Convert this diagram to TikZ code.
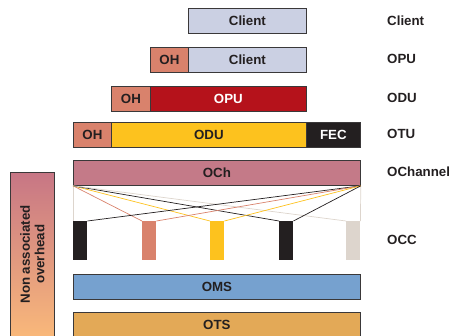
\documentclass[tikz,border=0pt]{standalone}
\usepackage{fontspec}
\setmainfont{Liberation Sans}
\definecolor{boxline}{HTML}{3A3839}
\definecolor{textdark}{HTML}{231F20}
\definecolor{clientblue}{HTML}{CBD0E3}
\definecolor{ohsalmon}{HTML}{D9826C}
\definecolor{opured}{HTML}{B5121B}
\definecolor{oduyellow}{HTML}{FDC21E}
\definecolor{fecblack}{HTML}{231F20}
\definecolor{ochpink}{HTML}{C47A88}
\definecolor{omsblue}{HTML}{76A1CF}
\definecolor{otsorange}{HTML}{E3A957}
\definecolor{occgray}{HTML}{DDD5CD}
\definecolor{naotop}{HTML}{C77685}
\definecolor{naobottom}{HTML}{F9B87A}
\tikzset{
  box/.style={draw=boxline, line width=0.8pt, minimum height=25pt, inner sep=0pt,
    anchor=north west, text=textdark, font=\bfseries\fontsize{13.3}{14.5}\selectfont},
  layer/.style={anchor=west, inner sep=0pt, text=textdark, font=\bfseries\fontsize{13.3}{14.5}\selectfont},
  occbar/.style={minimum width=14pt, minimum height=39pt, inner sep=0pt, anchor=north west},
  link/.style={line width=0.7pt}
}
\begin{document}
\begin{tikzpicture}[x=1pt,y=-1pt]
	\useasboundingbox (0,0) rectangle (449,335);
	% digital hierarchy
	\node[box, fill=clientblue, minimum width=118pt] (client) at (188,8) {Client};
	\node[box, fill=ohsalmon, minimum width=38pt] (opuoh) at (150,47) {OH};
	\node[box, fill=clientblue, minimum width=118pt] (opupayload) at (188,47) {Client};
	\node[box, fill=ohsalmon, minimum width=39pt] (oduoh) at (111,86) {OH};
	\node[box, fill=opured, text=white, minimum width=156pt] (odupayload) at (150,86) {OPU};
	\node[box, fill=ohsalmon, minimum width=38pt] (otuoh) at (73,122) {OH};
	\node[box, fill=oduyellow, minimum width=195pt] (otupayload) at (111,122) {ODU};
	\node[box, fill=fecblack, text=white, minimum width=54pt] (fec) at (306,122) {FEC};
	% optical layers
	\node[box, fill=ochpink, minimum width=287pt] (och) at (73,160) {OCh};
	\foreach \i/\x/\c in {1/73/fecblack, 2/142/ohsalmon, 3/210/oduyellow, 4/279/fecblack, 5/346/occgray}
		\node[occbar, fill=\c] (occ\i) at (\x,221) {};
	\draw[link, occgray] (och.south west) -- (occ1.north west);
	\draw[link, occgray] (och.south east) -- (occ5.north east);
	\foreach \i/\c in {2/ohsalmon, 3/oduyellow, 4/fecblack, 5/occgray}
		\draw[link, \c] (och.south west) -- (occ\i.north west);
	\foreach \i/\c in {1/fecblack, 2/ohsalmon, 3/oduyellow, 4/fecblack}
		\draw[link, \c] (och.south east) -- (occ\i.north east);
	\node[box, fill=omsblue, minimum width=287pt] (oms) at (73,274) {OMS};
	\node[box, fill=otsorange, minimum width=287pt] (ots) at (73,312) {OTS};
	% non associated overhead
	\node[draw=boxline, line width=0.8pt, top color=naotop, bottom color=naobottom, inner sep=0pt,
		minimum width=44pt, minimum height=164pt, anchor=north west] (nao) at (10,172) {};
	\node[rotate=90, align=center, inner sep=0pt, text=textdark,
		font=\bfseries\fontsize{13.3}{14.5}\selectfont] (naotext) at (nao.center) {Non associated\\overhead};
	% layer names
	\node[layer] (lclient) at (387,21) {Client};
	\node[layer] (lopu) at (387,59) {OPU};
	\node[layer] (lodu) at (387,98) {ODU};
	\node[layer] (lotu) at (387,134) {OTU};
	\node[layer] (loch) at (387,172) {OChannel};
	\node[layer] (locc) at (387,240) {OCC};
\end{tikzpicture}
\end{document}
